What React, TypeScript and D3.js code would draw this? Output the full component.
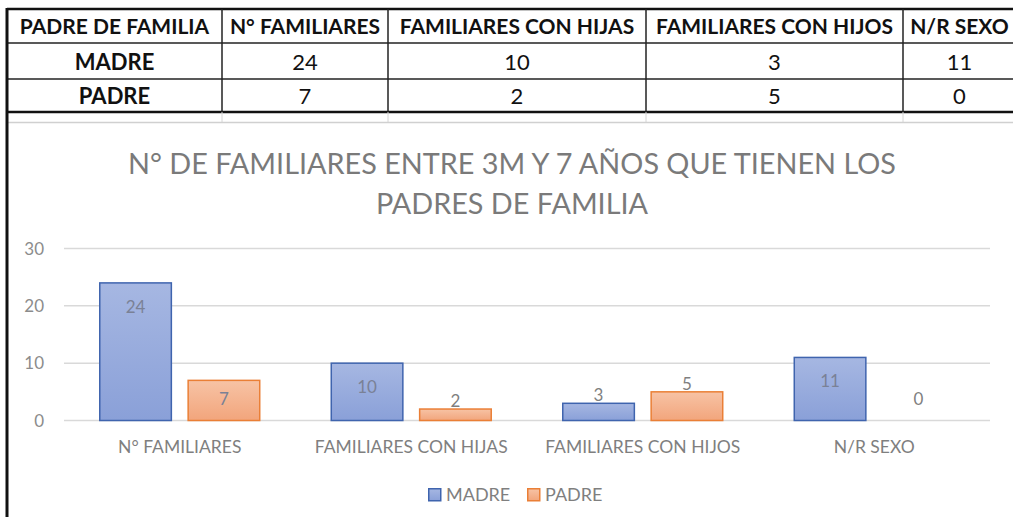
import React from 'react';
import * as d3 from 'd3';

// table + chart values
const categories = ['N° FAMILIARES', 'FAMILIARES CON HIJAS', 'FAMILIARES CON HIJOS', 'N/R SEXO'];
const series = ['MADRE', 'PADRE'];
const madreValues = [24, 10, 3, 11];
const padreValues = [7, 2, 5, 0];
const yTicks = [0, 10, 20, 30];
const tableCorner = 'PADRE DE FAMILIA';
const titleLines = ['N° DE FAMILIARES ENTRE 3M Y 7 AÑOS QUE TIENEN LOS', 'PADRES DE FAMILIA'];

const W = 1013;
const H = 517;
const FONT = 'Lato, "Open Sans", sans-serif';

const colEdges = [7, 222, 388, 646, 903, 1016];
const rowEdges = [9, 43, 79, 112];

const colors: Record<string, { top: string; bottom: string; stroke: string }> = {
  MADRE: { top: '#a6b7e2', bottom: '#8aa0d8', stroke: '#3f64ae' },
  PADRE: { top: '#f7c3a5', bottom: '#f2a57c', stroke: '#ea7f36' },
};

const App: React.FC = () => {
  const plot = { left: 64, right: 990, top: 248.5, bottom: 420.5 };

  const x0 = d3.scaleBand<string>().domain(categories).range([plot.left, plot.right]);
  const bw = x0.bandwidth();
  const x1 = d3.scaleBand<string>().domain(series).range([bw * 0.1545, bw * 0.8455]).paddingInner(0.19);
  const y = d3.scaleLinear().domain([0, 30]).range([plot.bottom, plot.top]);

  const rows = series.map((s, i) => ({
    name: s,
    values: i === 0 ? madreValues : padreValues,
  }));

  // excel-like label spot: inside end when it fits, above short bars
  const labelY = (v: number) => {
    const top = y(v);
    const h = y(0) - top;
    if (v === 0) return y(0) - 22;
    if (h < 30) return top - 8;
    return Math.min(top + 24, y(0) - 22);
  };

  const tableRows = [
    [tableCorner, ...categories],
    ['MADRE', ...madreValues.map(String)],
    ['PADRE', ...padreValues.map(String)],
  ];
  const baselines = [34, 70, 104];

  return (
    <svg width={W} height={H} style={{ position: 'absolute', left: 0, top: 0, display: 'block' }} fontFamily={FONT}>
      <defs>
        {series.map(s => (
          <linearGradient key={s} id={`grad-${s}`} x1="0" y1="0" x2="0" y2="1">
            <stop offset="0%" stopColor={colors[s].top} />
            <stop offset="100%" stopColor={colors[s].bottom} />
          </linearGradient>
        ))}
      </defs>
      <rect width={W} height={H} fill="#fff" />

      {/* table */}
      <g>
        {tableRows.map((r, ri) => r.map((cell, ci) => (
          <text key={`${ri}-${ci}`}
            x={(colEdges[ci] + colEdges[ci + 1]) / 2 + (ci === 5 ? -2 : 0)}
            y={baselines[ri]}
            textAnchor="middle"
            fontSize={ri === 0 ? 21 : 22}
            fontWeight={ri === 0 || ci === 0 ? 700 : 400}
            fill="#111">{cell}</text>
        )))}
        {rowEdges.slice(1, 3).map(ry => (
          <line key={ry} x1={colEdges[0]} x2={W} y1={ry} y2={ry} stroke="#222" strokeWidth={1.5} />
        ))}
        <line x1={colEdges[0]} x2={W} y1={rowEdges[0]} y2={rowEdges[0]} stroke="#111" strokeWidth={2.5} />
        <line x1={colEdges[0]} x2={W} y1={rowEdges[3]} y2={rowEdges[3]} stroke="#111" strokeWidth={2.5} />
        {colEdges.slice(1, 5).map(cx => (
          <g key={cx}>
            <line x1={cx} x2={cx} y1={rowEdges[0]} y2={rowEdges[3]} stroke="#222" strokeWidth={1.5} />
            <line x1={cx} x2={cx} y1={rowEdges[3]} y2={122} stroke="#d6d6d6" strokeWidth={1} />
          </g>
        ))}
      </g>

      {/* chart frame */}
      <line x1={8} x2={W} y1={122.5} y2={122.5} stroke="#d0d0d0" strokeWidth={1.5} />
      <line x1={7} x2={7} y1={rowEdges[0] - 1} y2={H} stroke="#111" strokeWidth={3} />

      {/* title */}
      {titleLines.map((t, i) => (
        <text key={i} x={512} y={174 + i * 40} textAnchor="middle" fontSize={28.8} fontWeight={400} fill="#7a7a7a">{t}</text>
      ))}

      {/* grid + y axis */}
      {yTicks.map(t => (
        <g key={t}>
          <line x1={plot.left} x2={plot.right} y1={y(t)} y2={y(t)} stroke="#d9d9d9" strokeWidth={1.5} />
          <text x={44} y={y(t) + 6} textAnchor="end" fontSize={17} fill="#8c8c8c">{t}</text>
        </g>
      ))}

      {/* bars */}
      {categories.map((c, ci) => (
        <g key={c} transform={`translate(${x0(c)},0)`}>
          {rows.map(r => {
            const v = r.values[ci];
            const bx = x1(r.name) as number;
            return (
              <g key={r.name}>
                {v > 0 && (
                  <rect x={bx} y={y(v)} width={x1.bandwidth()} height={y(0) - y(v)}
                    fill={`url(#grad-${r.name})`} stroke={colors[r.name].stroke} strokeWidth={1.5} />
                )}
                <text x={bx + x1.bandwidth() / 2} y={labelY(v) + 6} textAnchor="middle" fontSize={17}
                  fill={y(0) - y(v) >= 30 ? '#7a8196' : '#7f7f7f'}>{v}</text>
              </g>
            );
          })}
          <text x={bw / 2} y={453} textAnchor="middle" fontSize={17.5} fill="#7f7f7f">{c}</text>
        </g>
      ))}

      {/* legend */}
      <g transform="translate(428,488)">
        {series.map((s, i) => (
          <g key={s} transform={`translate(${i * 99},0)`}>
            <rect x={0.75} y={0.75} width={12} height={12} fill={`url(#grad-${s})`} stroke={colors[s].stroke} strokeWidth={1.5} />
            <text x={18} y={12.5} fontSize={18} fill="#7f7f7f">{s}</text>
          </g>
        ))}
      </g>
    </svg>
  );
};

export default App;
